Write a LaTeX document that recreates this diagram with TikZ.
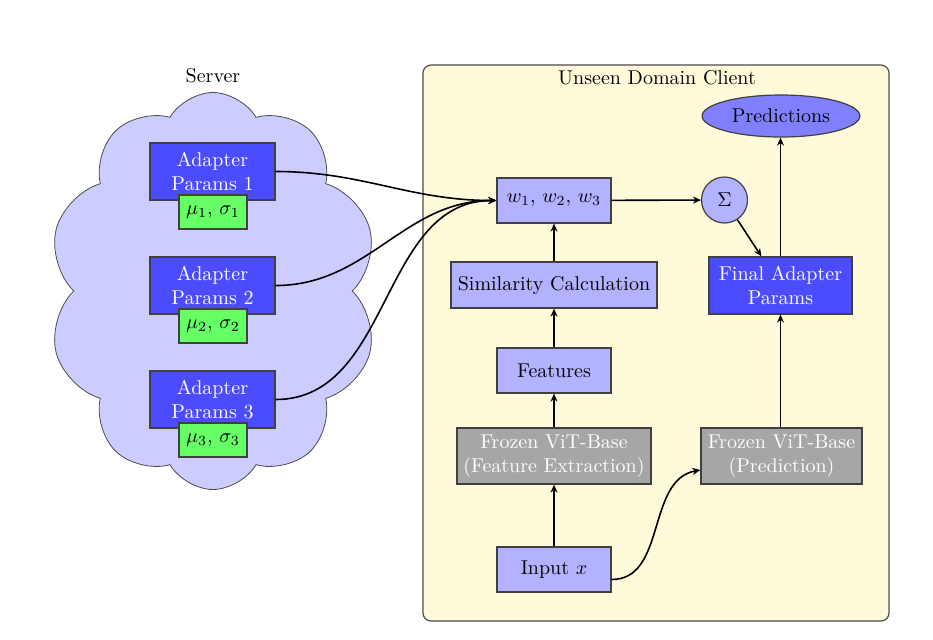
\documentclass[tikz,border=0pt]{standalone}
\usetikzlibrary{shapes.geometric,shapes.symbols,arrows.meta}
\definecolor{clientbg}{RGB}{255,250,218}
\begin{document}
\begin{tikzpicture}[x=0.5pt,y=-0.5pt,
  every node/.style={font=\fontsize{10}{12}\selectfont},
  boxbase/.style={draw=black!75, semithick, rectangle, align=center, inner sep=2pt},
  lightbox/.style={boxbase, fill=blue!30, text=black},
  adapterbox/.style={boxbase, fill=blue!70, text=white, minimum width=62.5pt, minimum height=28.5pt},
  statbox/.style={boxbase, fill=green!60, text=black, minimum width=34pt, minimum height=17pt},
  frozenbox/.style={boxbase, fill=gray!70, text=white, minimum height=28pt},
  conn/.style={thick, -{Stealth[length=4pt,width=3.5pt]}}
]
\useasboundingbox (0,0) rectangle (933,639);
% client panel
\node[draw=black!70, semithick, fill=clientbg, rounded corners=4pt, minimum width=233pt, minimum height=278pt] (client) at (656,343) {};
\node (clientlabel) at (657,78) {Unseen Domain Client};
% server cloud
\node[cloud, cloud puffs=10, cloud puff arc=120, cloud ignores aspect, draw=black!70, fill=blue!20, minimum width=165pt, minimum height=198.5pt] (cloud) at (213,291) {};
\node (serverlabel) at (213,76) {Server};
% adapters
\node[adapterbox] (a1) at (212.5,171.5) {Adapter\\Params 1};
\node[statbox] (s1) at (213,212) {$\mu_1,\,\sigma_1$};
\node[adapterbox] (a2) at (212.5,285.5) {Adapter\\Params 2};
\node[statbox] (s2) at (213,326) {$\mu_2,\,\sigma_2$};
\node[adapterbox] (a3) at (212.5,399.5) {Adapter\\Params 3};
\node[statbox] (s3) at (213,440) {$\mu_3,\,\sigma_3$};
% client nodes
\node[lightbox, minimum width=57pt, minimum height=22.5pt] (w) at (554,200.5) {$w_1,\, w_2,\, w_3$};
\node[lightbox, minimum width=103pt, minimum height=23pt] (sim) at (554,285) {Similarity Calculation};
\node[lightbox, minimum width=57pt, minimum height=22.5pt] (feat) at (554,370.5) {Features};
\node[frozenbox, minimum width=97pt] (vitfe) at (554,456) {Frozen ViT-Base\\(Feature Extraction)};
\node[lightbox, minimum width=57pt, minimum height=22.5pt] (input) at (554,569.5) {Input $x$};
\node[circle, draw=black!75, semithick, fill=blue!30, minimum size=23pt, inner sep=0pt] (sigma) at (724.5,200) {$\Sigma$};
\node[adapterbox, minimum width=71.5pt] (final) at (780.5,285.5) {Final Adapter\\Params};
\node[ellipse, draw=black!75, semithick, fill=blue!50, minimum width=78.5pt, minimum height=21pt] (pred) at (781,116) {Predictions};
\node[frozenbox, minimum width=80.5pt] (vitp) at (781.5,456) {Frozen ViT-Base\\(Prediction)};
% connectors
\draw[conn] (a1.east) to[out=0,in=180] (w.west);
\draw[conn] (a2.east) to[out=0,in=180] (w.west);
\draw[conn] (a3.east) to[out=0,in=180] (w.west);
\draw[conn] (input) -- (vitfe);
\draw[conn] (vitfe) -- (feat);
\draw[conn] (feat) -- (sim);
\draw[conn] (sim) -- (w);
\draw[conn] (w) -- (sigma);
\draw[conn] (sigma) -- (final);
\draw[conn] (vitp.north -| final.south) -- (final.south);
\draw[conn] (final.north) -- (final.north |- pred.south);
\draw[conn] ([yshift=-5pt]input.east) to[out=0,in=190] ([yshift=-7pt]vitp.west);
\end{tikzpicture}
\end{document}
